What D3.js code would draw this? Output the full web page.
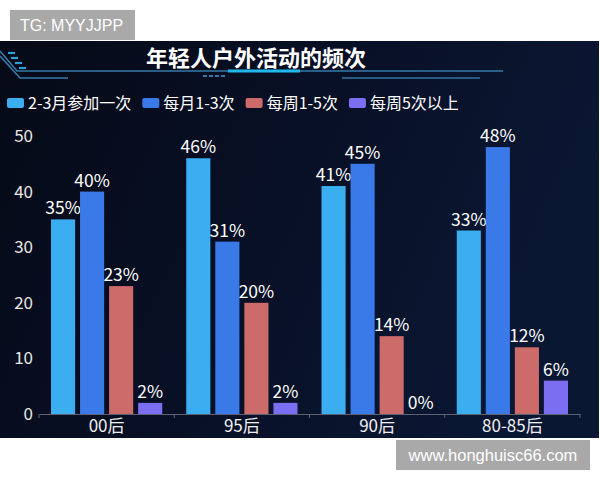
<!DOCTYPE html>
<html><head><meta charset="utf-8">
<script src="https://cdn.jsdelivr.net/npm/d3@7"></script>
<style>html,body{margin:0;padding:0;background:#fff;}svg{display:block;}</style>
</head><body>
<svg id="chart" width="600" height="480"></svg>
<script>
const categories = ["00后", "95后", "90后", "80-85后"];
const seriesNames = ["2-3月参加一次", "每月1-3次", "每周1-5次", "每周5次以上"];
const s1 = [35, 46, 41, 33];
const s2 = [40, 31, 45, 48];
const s3 = [23, 20, 14, 12];
const s4 = [2, 2, 0, 6];
const yTicks = [0, 10, 20, 30, 40, 50];
const title = "年轻人户外活动的频次";
const colors = ["#3AAEF0", "#3A79E8", "#CD6B6B", "#7B6EF0"];

const seriesValues = [s1, s2, s3, s4];
const FONT = "'Noto Sans CJK SC','Noto Sans',sans-serif";
const svg = d3.select("#chart");

// defs
const defs = svg.append("defs");
const bg = defs.append("linearGradient").attr("id","bg").attr("x1","0").attr("y1","0").attr("x2","1").attr("y2","0.3");
bg.append("stop").attr("offset","0").attr("stop-color","#060a17");
bg.append("stop").attr("offset","0.55").attr("stop-color","#081026");
bg.append("stop").attr("offset","1").attr("stop-color","#0a1733");

// panel
svg.append("rect").attr("x",0).attr("y",41).attr("width",599).attr("height",397).attr("fill","url(#bg)");

// watermark boxes
svg.append("rect").attr("x",10).attr("y",10).attr("width",125).attr("height",30).attr("fill","#a9a9a9");
svg.append("text").attr("x",20).attr("y",31).attr("font-family","'Liberation Sans',Arial,sans-serif")
  .attr("font-size",16).attr("fill","#fff").text("TG: MYYJJPP");
svg.append("rect").attr("x",396).attr("y",440).attr("width",194).attr("height",30).attr("fill","#a9a9a9");
svg.append("text").attr("x",493).attr("y",461).attr("text-anchor","middle").attr("font-family","'Liberation Sans',Arial,sans-serif")
  .attr("font-size",16.5).attr("fill","#fff").text("www.honghuisc66.com");

// decorative lines
const deco = svg.append("g").attr("fill","none");
deco.append("path").attr("d","M0,51 L17,71 L503,71").attr("stroke","#3a86b8").attr("stroke-width",1.6).attr("opacity",0.9);
deco.append("path").attr("d","M0,56 L20,78 L68,78").attr("stroke","#3a86b8").attr("stroke-width",1.6).attr("opacity",0.9);
deco.append("path").attr("d","M228,71 L300,71").attr("stroke","#22b8ee").attr("stroke-width",3);
deco.append("path").attr("d","M342,78 L480,78").attr("stroke","#3a86b8").attr("stroke-width",1.4).attr("opacity",0.85);
[[8,53],[11,58],[15,63],[19,68]].forEach(p=>{
  deco.append("path").attr("d",`M${p[0]},${p[1]} l7,0`).attr("stroke","#2a9fd8").attr("stroke-width",2.2);
});
[203,209,215,221].forEach(x=>{
  deco.append("path").attr("d",`M${x},76 l4,0`).attr("stroke","#3a86b8").attr("stroke-width",1.8);
});

// title
svg.append("text").attr("x",256).attr("y",66).attr("text-anchor","middle").attr("font-family",FONT)
  .attr("font-weight","bold").attr("font-size",22).attr("fill","#fff").text(title);

// legend
const legend = svg.append("g");
let lx = 7;
seriesNames.forEach((name,i)=>{
  legend.append("rect").attr("x",lx).attr("y",98).attr("width",17).attr("height",10).attr("rx",2).attr("fill",colors[i]);
  const t = legend.append("text").attr("x",lx+21).attr("y",109).attr("font-family",FONT).attr("font-size",16)
    .attr("fill","#fff").text(name);
  lx = lx + 21 + t.node().getComputedTextLength() + 11;
});

// scales
const y = d3.scaleLinear().domain([0,50]).range([414,136]);
const x = d3.scaleBand().domain(categories).range([39,580]).paddingInner(0).paddingOuter(0);
const xs = d3.scaleBand().domain(seriesNames).range([12, x.bandwidth()-12]).paddingInner(0.17);

// y axis labels
const yAxis = svg.append("g").attr("transform","translate(33,0)")
  .call(d3.axisLeft(y).tickValues(yTicks).tickSize(0).tickPadding(0));
yAxis.select(".domain").remove();
yAxis.selectAll("text").attr("font-family",FONT).attr("font-size",17).attr("fill","#e6e6e6");

// x axis
const xAxis = svg.append("g").attr("transform","translate(0,414)")
  .call(d3.axisBottom(x).tickSize(0).tickPadding(6));
xAxis.select(".domain").attr("stroke","#5c6274").attr("stroke-width",1);
xAxis.selectAll("text").attr("font-family",FONT).attr("font-size",17).attr("fill","#f0f0f0");
const bounds = categories.map(c=>x(c)).concat([x(categories[categories.length-1])+x.bandwidth()]);
xAxis.selectAll(".bound").data(bounds).enter().append("line").attr("class","bound")
  .attr("x1",d=>d).attr("x2",d=>d).attr("y1",0).attr("y2",4).attr("stroke","#5c6274");

// bars
const groups = svg.append("g").selectAll("g").data(categories).enter().append("g")
  .attr("transform",c=>`translate(${x(c)},0)`);
groups.each(function(c,ci){
  const g = d3.select(this);
  seriesNames.forEach((s,si)=>{
    const v = seriesValues[si][ci];
    g.append("rect").attr("x",xs(s)).attr("y",y(v)).attr("width",xs.bandwidth())
      .attr("height",y(0)-y(v)).attr("fill",colors[si]);
    g.append("text").attr("x",xs(s)+xs.bandwidth()/2).attr("y",y(v)-5).attr("text-anchor","middle")
      .attr("font-family",FONT).attr("font-size",17.5).attr("fill","#fff").text(v+"%");
  });
});
</script>
</body></html>
